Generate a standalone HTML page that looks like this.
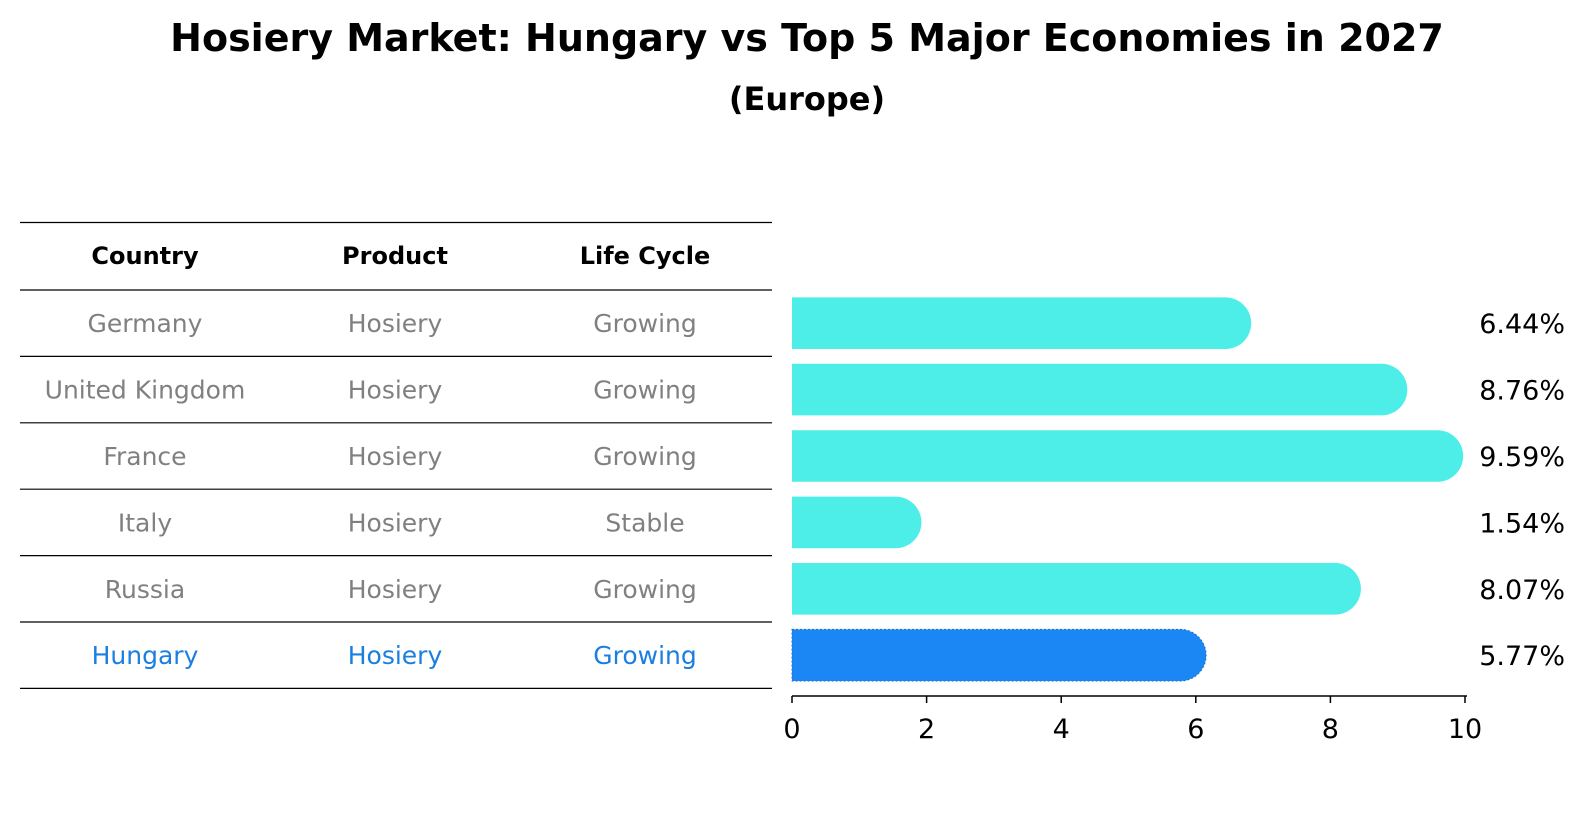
<!DOCTYPE html>
<html><head><meta charset="utf-8"><style>
body{margin:0;background:#fff;}
svg text{font-family:"DejaVu Sans","Liberation Sans",sans-serif;}
</style></head><body>
<svg width="1586" height="823" viewBox="0 0 1586 823" xmlns="http://www.w3.org/2000/svg">
<text x="807" y="51" text-anchor="middle" font-size="38" font-weight="bold">Hosiery Market: Hungary vs Top 5 Major Economies in 2027</text>
<text x="807" y="110" text-anchor="middle" font-size="32" font-weight="bold">(Europe)</text>
<g id="table"></g>
<g id="bars"></g>
<g id="axis"></g>
</svg>
<script>
const countries=["Germany","United Kingdom","France","Italy","Russia","Hungary"];
const products=["Hosiery","Hosiery","Hosiery","Hosiery","Hosiery","Hosiery"];
const lifecycles=["Growing","Growing","Growing","Stable","Growing","Growing"];
const values=[6.44,8.76,9.59,1.54,8.07,5.77];
const ticks=[0,2,4,6,8,10];
const NS="http://www.w3.org/2000/svg";
function mk(t,a,p){const e=document.createElementNS(NS,t);for(const k in a)e.setAttribute(k,a[k]);p.appendChild(e);return e;}
const x0=792,x1=1465,xs=v=>x0+(x1-x0)*v/10;
const rowTop=290,rowH=66.4,barH=51.6,r=25.8;
const yc=i=>rowTop+rowH*(i+0.5);
const tbl=document.getElementById('table');
const lineYs=[222.5,290];for(let i=1;i<=countries.length;i++)lineYs.push(rowTop+rowH*i);
lineYs.forEach((y,i)=>{const l=mk('line',{x1:20,x2:772,y1:y,y2:y,stroke:'#000','stroke-width':1.2},tbl);

});
const cols=[145,395,645];
["Country","Product","Life Cycle"].forEach((h,j)=>{const t=mk('text',{x:cols[j],y:264,'text-anchor':'middle','font-size':24,'font-weight':'bold'},tbl);t.textContent=h;

});
countries.forEach((c,i)=>{const col=i===countries.length-1?'#1a7fe0':'#808080';
[c,products[i],lifecycles[i]].forEach((v,j)=>{const t=mk('text',{x:cols[j],y:yc(i)+9,'text-anchor':'middle','font-size':25,fill:col},tbl);t.textContent=v;

});});
const bars=document.getElementById('bars');
values.forEach((v,i)=>{const hu=i===values.length-1;const col=hu?'#1a87f5':'#4deee8';
const y=yc(i)-barH/2, xe=xs(v);
const p=mk('path',{d:`M${x0},${y} H${xe} A${r},${barH/2} 0 0 1 ${xe},${y+barH} H${x0} Z`,fill:col},bars);
if(hu){p.setAttribute('stroke','#1a6fd0');p.setAttribute('stroke-dasharray','2,2');p.setAttribute('stroke-width','1');}


const t=mk('text',{x:1565,y:yc(i)+10,'text-anchor':'end','font-size':27},bars);t.textContent=v.toFixed(2)+'%';

});
const ax=document.getElementById('axis');
mk('line',{x1:x0,x2:x1+2,y1:696,y2:696,stroke:'#000','stroke-width':1.5},ax);
ticks.forEach(v=>{mk('line',{x1:xs(v),x2:xs(v),y1:696,y2:703,stroke:'#000','stroke-width':1.5},ax);
const t=mk('text',{x:xs(v),y:738,'text-anchor':'middle','font-size':27},ax);t.textContent=v;

});
</script>
</body></html>
